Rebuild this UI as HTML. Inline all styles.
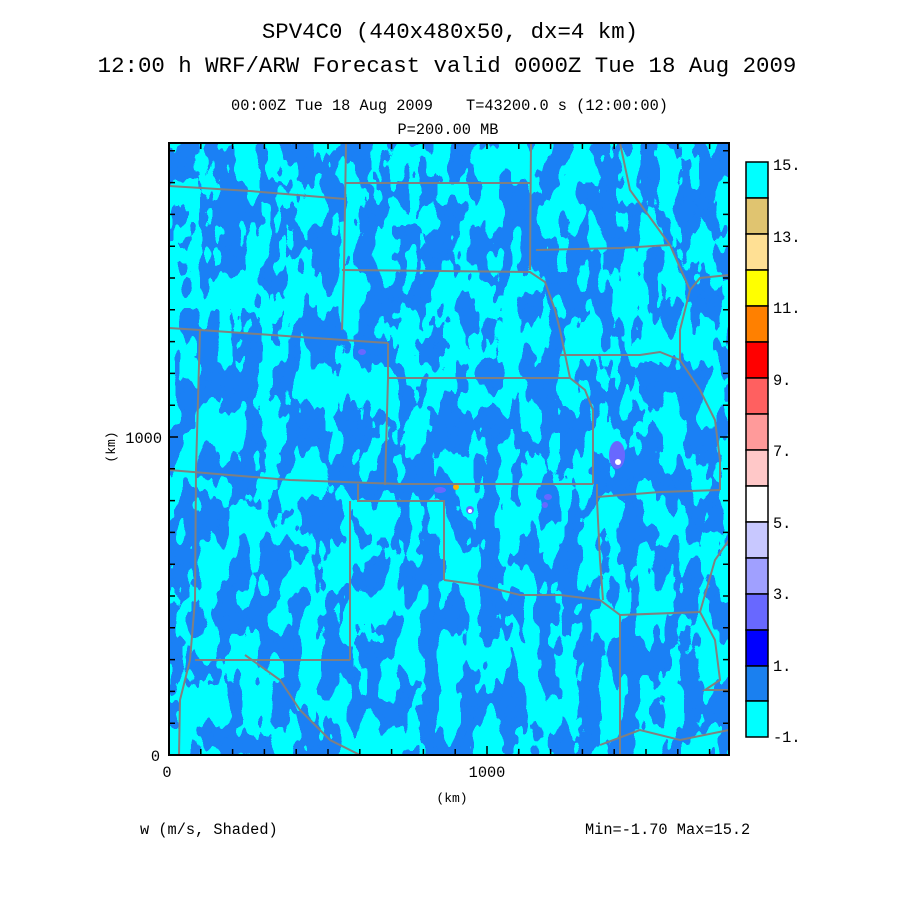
<!DOCTYPE html>
<html><head><meta charset="utf-8"><style>
html,body{margin:0;padding:0;background:#fff;overflow:hidden;width:900px;height:900px;}
svg{display:block;}
svg text{font-family:"Liberation Mono",monospace;fill:#000;}
</style></head><body>
<svg width="900" height="900" viewBox="0 0 900 900" xmlns="http://www.w3.org/2000/svg">
<defs>
<filter id="f" x="169" y="143" width="560" height="612" filterUnits="userSpaceOnUse" color-interpolation-filters="sRGB">
<feTurbulence type="fractalNoise" baseFrequency="0.05 0.022" numOctaves="3" seed="11" result="n"/>
<feColorMatrix in="n" type="matrix" values="0 0 0 0 0.1  0 0 0 0 0.5  0 0 0 0 0.96  2 0 0 0 -0.5" result="c"/>
<feComponentTransfer in="c"><feFuncA type="discrete" tableValues="0 1"/></feComponentTransfer>
</filter>
<clipPath id="cp"><rect x="169" y="143" width="560" height="612"/></clipPath>
</defs>
<rect width="900" height="900" fill="#fff"/>
<text x="450" y="38" font-size="22.4" text-anchor="middle">SPV4C0 (440x480x50, dx=4 km)</text>
<text x="447" y="72" font-size="22.4" text-anchor="middle">12:00 h WRF/ARW Forecast valid 0000Z Tue 18 Aug 2009</text>
<text x="332" y="110" font-size="15.3" text-anchor="middle">00:00Z Tue 18 Aug 2009</text>
<text x="567" y="110" font-size="15.3" text-anchor="middle">T=43200.0 s (12:00:00)</text>
<text x="448" y="134" font-size="15.3" text-anchor="middle">P=200.00 MB</text>
<g clip-path="url(#cp)">
<rect x="169" y="143" width="560" height="612" fill="#00ffff"/>
<rect x="169" y="143" width="560" height="612" filter="url(#f)"/>
<g fill="#6868ff">
<ellipse cx="617" cy="455" rx="8" ry="14"/><ellipse cx="440" cy="490" rx="6" ry="3"/><ellipse cx="470" cy="510" rx="4" ry="4"/>
<ellipse cx="548" cy="497" rx="4" ry="3"/><ellipse cx="545" cy="505" rx="3" ry="3"/><ellipse cx="362" cy="352" rx="4" ry="3"/>
</g>
<g fill="#fff"><circle cx="618" cy="462" r="3"/><circle cx="470" cy="511" r="2"/></g>
<circle cx="456" cy="487" r="3" fill="#ffb000"/>
<g fill="none" stroke="#808080" stroke-width="2">
<polyline points="169,186 250,191 345,199"/>
<polyline points="346,143 344,270 342,330"/>
<polyline points="346,183 530,183"/>
<polyline points="531,143 530,270"/>
<polyline points="342,270 530,272 545,282 555,310 560,330 570,378"/>
<polyline points="169,328 200,330 300,337 388,343"/>
<polyline points="388,343 388,378 385,485"/>
<polyline points="388,378 570,378 585,390 593,410 593,484"/>
<polyline points="169,470 290,480 400,484 593,484"/>
<polyline points="358,484 358,501 444,501 444,580"/>
<polyline points="444,580 480,585 520,595 560,595 600,600"/>
<polyline points="597,484 597,500 600,560 603,600"/>
<polyline points="597,497 660,492 720,490"/>
<polyline points="200,330 196,470 195,600 190,660 180,700 179,755"/>
<polyline points="350,501 350,660"/>
<polyline points="195,660 350,660"/>
<polyline points="245,655 280,680 300,710 330,740 360,755"/>
<polyline points="536,250 620,248 670,245"/>
<polyline points="560,355 640,355 660,352 680,360"/>
<polyline points="620,143 630,190 670,245 690,290 680,330 680,360 700,390 715,420 720,460 720,490"/>
<polyline points="729,275 700,278 690,290"/>
<polyline points="600,600 620,615 620,755"/>
<polyline points="620,615 700,612"/>
<polyline points="700,612 715,640 720,680 705,690 729,690"/>
<polyline points="729,540 715,560 700,612"/>
<polyline points="600,745 640,730 680,740 729,730"/>
</g>
</g>
<rect x="169" y="143" width="560" height="612" fill="none" stroke="#000" stroke-width="2"/>
<g stroke="#000" stroke-width="1.5">
<path d="M169.0 143v6M200.8 143v6M232.6 143v6M264.4 143v6M296.2 143v6M328 143v6M359.8 143v6M391.6 143v6M423.4 143v6M455.2 143v6M487 143v6M518.8 143v6M550.6 143v6M582.4 143v6M614.2 143v6M646 143v6M677.8 143v6M709.6 143v6"/>
<path d="M169.0 755v-6M200.8 755v-6M232.6 755v-6M264.4 755v-6M296.2 755v-6M328 755v-6M359.8 755v-6M391.6 755v-6M423.4 755v-6M455.2 755v-6M487 755v-9M518.8 755v-6M550.6 755v-6M582.4 755v-6M614.2 755v-6M646 755v-6M677.8 755v-6M709.6 755v-6"/>
<path d="M169 723.2h6M169 691.4h6M169 659.6h6M169 627.8h6M169 596h6M169 564.2h6M169 532.4h6M169 500.6h6M169 468.8h6M169 437h9M169 405.2h6M169 373.4h6M169 341.6h6M169 309.8h6M169 278h6M169 246.2h6M169 214.4h6M169 182.6h6M169 150.8h6"/>
<path d="M729 723.2h-6M729 691.4h-6M729 659.6h-6M729 627.8h-6M729 596h-6M729 564.2h-6M729 532.4h-6M729 500.6h-6M729 468.8h-6M729 437h-9M729 405.2h-6M729 373.4h-6M729 341.6h-6M729 309.8h-6M729 278h-6M729 246.2h-6M729 214.4h-6M729 182.6h-6M729 150.8h-6"/>
</g>
<text x="167" y="777" font-size="15.3" text-anchor="middle">0</text>
<text x="487" y="777" font-size="15.3" text-anchor="middle">1000</text>
<text x="452" y="802" font-size="13" text-anchor="middle">(km)</text>
<text x="160" y="761" font-size="15.3" text-anchor="end">0</text>
<text x="162" y="443" font-size="15.3" text-anchor="end">1000</text>
<text x="0" y="0" font-size="13" text-anchor="middle" transform="translate(115,447) rotate(-90)">(km)</text>
<text x="140" y="834" font-size="15.3">w (m/s, Shaded)</text>
<text x="585" y="834" font-size="15.3">Min=-1.70 Max=15.2</text>
<g stroke="#000" stroke-width="1.5">
<rect x="746" y="162" width="22" height="36" fill="#00ffff"/>
<rect x="746" y="198" width="22" height="36" fill="#e0c470"/>
<rect x="746" y="234" width="22" height="36" fill="#ffe094"/>
<rect x="746" y="270" width="22" height="36" fill="#ffff00"/>
<rect x="746" y="306" width="22" height="36" fill="#ff8000"/>
<rect x="746" y="342" width="22" height="36" fill="#ff0000"/>
<rect x="746" y="378" width="22" height="36" fill="#ff6060"/>
<rect x="746" y="414" width="22" height="36" fill="#ff9a9a"/>
<rect x="746" y="450" width="22" height="36" fill="#ffc8c8"/>
<rect x="746" y="486" width="22" height="36" fill="#ffffff"/>
<rect x="746" y="522" width="22" height="36" fill="#c8c8ff"/>
<rect x="746" y="558" width="22" height="36" fill="#a0a0ff"/>
<rect x="746" y="594" width="22" height="36" fill="#6868ff"/>
<rect x="746" y="630" width="22" height="36" fill="#0000ff"/>
<rect x="746" y="666" width="22" height="35" fill="#1a80f0"/>
<rect x="746" y="701" width="22" height="36" fill="#00ffff"/>
</g>
<g font-size="15.3">
<text x="773" y="170">15.</text><text x="773" y="242">13.</text><text x="773" y="313">11.</text>
<text x="773" y="385">9.</text><text x="773" y="456">7.</text><text x="773" y="528">5.</text>
<text x="773" y="599">3.</text><text x="773" y="671">1.</text><text x="773" y="742">-1.</text>
</g>
</svg>
</body></html>
